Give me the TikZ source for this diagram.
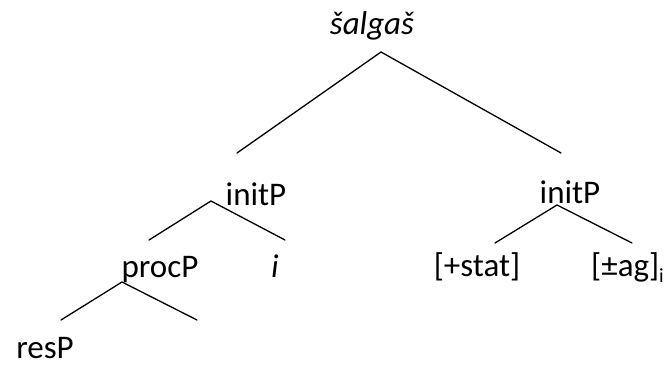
\documentclass[tikz,border=0pt]{standalone}
\usepackage{fontspec}
\setmainfont{Carlito}
\tikzset{%
    lbl/.style={inner sep=0pt,anchor=base,font=\fontsize{33}{39}\selectfont}
}

\begin{document}
\begin{tikzpicture}[
                x=1pt,y=-1pt,
                br/.style={line width=1.3pt,line cap=round}
            ]
            \useasboundingbox (0,0) rectangle (666,366);

            \node[lbl,font=\fontsize{33}{39}\selectfont\itshape] (root) at (372,35){šalgaš};
            \node[lbl] (initL) at (256,205){initP};
            \node[lbl] (initR) at (570,204){initP};
            \node[lbl] (proc) at (160,277){procP};
            \node[lbl,font=\fontsize{33}{39}\selectfont\itshape] (idx) at (275,277){i};
            \node[lbl] (res) at (45,358){resP};
            \node[lbl] (stat) at (477,276){[+stat]};
            \node[lbl,anchor=base west] (ag) at (591,276){[±ag]\raisebox{-6pt}{\fontsize{20}{20}\selectfont i}};

            \coordinate (r) at (381,52);
            \coordinate (rL) at (237,153);
            \coordinate (rR) at (561,153);
            \coordinate (a) at (211,201);
            \coordinate (aL) at (149,240);
            \coordinate (aR) at (285,240);
            \coordinate (b) at (557,205);
            \coordinate (bL) at (495,243);
            \coordinate (bR) at (632,243);
            \coordinate (c) at (122,282);
            \coordinate (cL) at (61,320);
            \coordinate (cR) at (197,320);

            \draw[br] (rL) -- (r) -- (rR);
            \draw[br] (aL) -- (a) -- (aR);
            \draw[br] (bL) -- (b) -- (bR);
            \draw[br] (cL) -- (c) -- (cR);
        \end{tikzpicture}
\end{document}
